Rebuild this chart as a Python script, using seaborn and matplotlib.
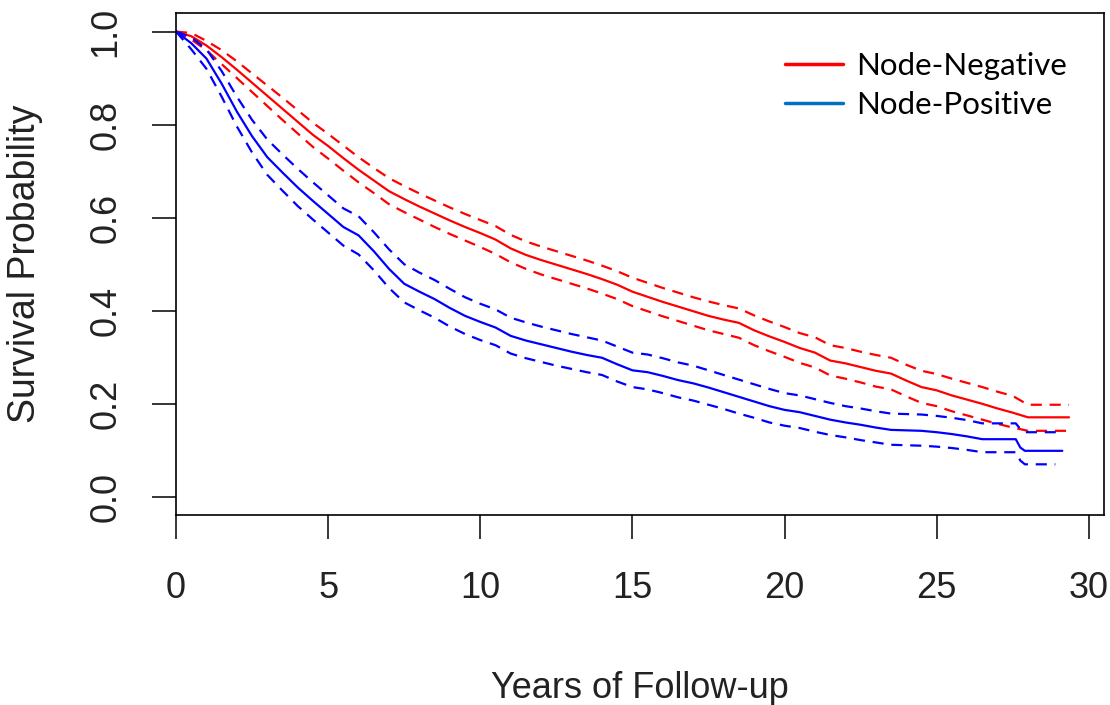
import pandas as pd
import matplotlib.pyplot as plt
import seaborn as sns
from matplotlib.lines import Line2D

# Kaplan-Meier estimates (years, survival probability)
neg_t = [0, 0.5, 1.0, 1.5, 2.0, 2.5, 3.0, 3.5, 4.0, 4.5, 5.0, 5.5, 6.0, 6.5, 7.0, 7.5,
         8.0, 8.5, 9.0, 9.5, 10.0, 10.5, 11.0, 11.5, 12.0, 12.5, 13.0, 13.5, 14.0, 14.5,
         15.0, 15.5, 16.0, 16.5, 17.0, 17.5, 18.0, 18.5, 19.0, 19.5, 20.0, 20.5, 21.0,
         21.5, 22.0, 22.5, 23.0, 23.5, 24.0, 24.5, 25.0, 25.5, 26.0, 26.5, 27.0, 27.5,
         28.0, 29.35]
neg_s = [1.0, 0.990, 0.970, 0.945, 0.918, 0.890, 0.862, 0.834, 0.806, 0.778, 0.754,
         0.728, 0.703, 0.680, 0.657, 0.640, 0.624, 0.609, 0.594, 0.580, 0.567, 0.553,
         0.534, 0.520, 0.509, 0.499, 0.489, 0.479, 0.468, 0.456, 0.441, 0.430, 0.419,
         0.409, 0.399, 0.389, 0.381, 0.374, 0.358, 0.345, 0.333, 0.320, 0.310, 0.293,
         0.287, 0.279, 0.271, 0.265, 0.250, 0.236, 0.229, 0.218, 0.209, 0.200, 0.190,
         0.181, 0.171, 0.171]
neg_upper = [1.0, 0.997, 0.980, 0.960, 0.936, 0.910, 0.884, 0.858, 0.831, 0.804, 0.780,
             0.755, 0.730, 0.707, 0.685, 0.668, 0.652, 0.637, 0.622, 0.608, 0.595, 0.582,
             0.563, 0.549, 0.538, 0.528, 0.518, 0.508, 0.497, 0.485, 0.471, 0.460, 0.449,
             0.439, 0.429, 0.420, 0.412, 0.405, 0.390, 0.377, 0.365, 0.352, 0.343, 0.326,
             0.320, 0.312, 0.305, 0.299, 0.284, 0.271, 0.264, 0.254, 0.245, 0.236, 0.226,
             0.217, 0.198, 0.198]
neg_lower = [1.0, 0.983, 0.960, 0.930, 0.900, 0.870, 0.840, 0.810, 0.781, 0.752, 0.727,
             0.701, 0.676, 0.653, 0.629, 0.612, 0.596, 0.580, 0.565, 0.551, 0.537, 0.522,
             0.504, 0.490, 0.478, 0.468, 0.458, 0.448, 0.437, 0.425, 0.410, 0.399, 0.388,
             0.378, 0.368, 0.358, 0.350, 0.342, 0.326, 0.313, 0.301, 0.288, 0.278, 0.261,
             0.254, 0.246, 0.237, 0.231, 0.216, 0.202, 0.195, 0.184, 0.175, 0.166, 0.157,
             0.149, 0.142, 0.142]

pos_t = [0, 0.5, 1.0, 1.5, 2.0, 2.5, 3.0, 3.5, 4.0, 4.5, 5.0, 5.5, 6.0, 6.5, 7.0, 7.5,
         8.0, 8.5, 9.0, 9.5, 10.0, 10.5, 11.0, 11.5, 12.0, 12.5, 13.0, 13.5, 14.0, 14.5,
         15.0, 15.5, 16.0, 16.5, 17.0, 17.5, 18.0, 18.5, 19.0, 19.5, 20.0, 20.5, 21.0,
         21.5, 22.0, 22.5, 23.0, 23.5, 24.0, 24.5, 25.0, 25.5, 26.0, 26.5, 27.0, 27.6,
         27.75, 27.9, 29.13]
pos_s = [1.0, 0.975, 0.942, 0.888, 0.828, 0.775, 0.730, 0.697, 0.665, 0.636, 0.608,
         0.580, 0.562, 0.528, 0.490, 0.458, 0.441, 0.425, 0.406, 0.389, 0.376, 0.364,
         0.346, 0.336, 0.328, 0.320, 0.312, 0.305, 0.299, 0.285, 0.272, 0.268, 0.260,
         0.251, 0.244, 0.235, 0.225, 0.215, 0.205, 0.195, 0.187, 0.182, 0.174, 0.166,
         0.160, 0.155, 0.149, 0.144, 0.143, 0.142, 0.139, 0.135, 0.130, 0.124, 0.124,
         0.124, 0.106, 0.099, 0.099]
pos_upper = [1.0, 0.988, 0.962, 0.915, 0.860, 0.810, 0.768, 0.736, 0.705, 0.676, 0.648,
             0.620, 0.603, 0.569, 0.532, 0.500, 0.482, 0.466, 0.447, 0.429, 0.415, 0.403,
             0.385, 0.375, 0.366, 0.358, 0.350, 0.343, 0.336, 0.323, 0.310, 0.306, 0.298,
             0.289, 0.282, 0.272, 0.262, 0.252, 0.242, 0.232, 0.223, 0.218, 0.210, 0.202,
             0.195, 0.190, 0.184, 0.179, 0.178, 0.177, 0.174, 0.170, 0.165, 0.158, 0.158,
             0.158, 0.146, 0.139, 0.139]
pos_lower = [1.0, 0.962, 0.920, 0.860, 0.796, 0.740, 0.692, 0.658, 0.625, 0.596, 0.568,
             0.540, 0.521, 0.487, 0.449, 0.418, 0.401, 0.385, 0.366, 0.350, 0.337, 0.326,
             0.308, 0.298, 0.290, 0.282, 0.275, 0.268, 0.262, 0.248, 0.236, 0.231, 0.223,
             0.214, 0.207, 0.198, 0.189, 0.179, 0.170, 0.160, 0.153, 0.148, 0.140, 0.133,
             0.128, 0.122, 0.117, 0.112, 0.111, 0.110, 0.108, 0.105, 0.101, 0.096, 0.096,
             0.096, 0.078, 0.070, 0.070]
pos_lower_t = pos_t[:-1] + [28.9]

x_ticks = [0, 5, 10, 15, 20, 25, 30]
y_ticks = [0.0, 0.2, 0.4, 0.6, 0.8, 1.0]
labels = ['Node-Negative', 'Node-Positive']

sns.set_style('white')
plt.rcParams['font.family'] = ['Liberation Sans', 'DejaVu Sans']

fig = plt.figure(figsize=(11.1, 7.05), dpi=100)
ax = fig.add_axes([0.1586, 0.2688, 0.836, 0.7128])

dash = (5, 3.5)
lw = 1.6
curves = [
    (neg_t, neg_s, 'red', '-'),
    (neg_t, neg_upper, 'red', '--'),
    (neg_t, neg_lower, 'red', '--'),
    (pos_t, pos_s, 'blue', '-'),
    (pos_t, pos_upper, 'blue', '--'),
    (pos_lower_t, pos_lower, 'blue', '--'),
]
for t, s, col, ls in curves:
    df = pd.DataFrame({'t': t, 's': s})
    sns.lineplot(data=df, x='t', y='s', color=col, linewidth=lw,
                 estimator=None, ax=ax)
    if ls == '--':
        ax.lines[-1].set_dashes(dash)

ax.set_xlim(0, 30.5)
ax.set_ylim(-0.04, 1.04)
ax.set_xticks(x_ticks)
ax.set_yticks(y_ticks)
ax.set_xticklabels([str(v) for v in x_ticks])
ax.set_yticklabels([f'{v:.1f}' for v in y_ticks], rotation=90, va='center')

for sp in ax.spines.values():
    sp.set_visible(True)
    sp.set_color('black')
    sp.set_linewidth(1.2)

ax.tick_params(axis='both', direction='out', length=17, width=1.1,
               color='black', labelsize=26, labelcolor='#222222',
               bottom=True, left=True)
ax.tick_params(axis='x', pad=23)
ax.tick_params(axis='y', pad=21)

ax.set_xlabel('Years of Follow-up', fontsize=26, color='#222222')
ax.set_ylabel('Survival Probability', fontsize=27, color='#222222')
ax.xaxis.set_label_coords(0.5, -0.31)
ax.yaxis.set_label_coords(-0.143, 0.5)

handles = [Line2D([], [], color='#FF0000', lw=2.5),
           Line2D([], [], color='#0070C0', lw=2.5)]
leg = ax.legend(handles, labels, loc='upper left', frameon=False,
                bbox_to_anchor=(785 / 1110, 1 - 52 / 705),
                bbox_transform=fig.transFigure,
                prop={'family': 'Lato', 'size': 22.5},
                handlelength=1.85, handletextpad=0.42, labelspacing=0.36,
                borderaxespad=0, borderpad=0)
for txt in leg.get_texts():
    txt.set_color('black')

fig.savefig('out.png', dpi=100)
